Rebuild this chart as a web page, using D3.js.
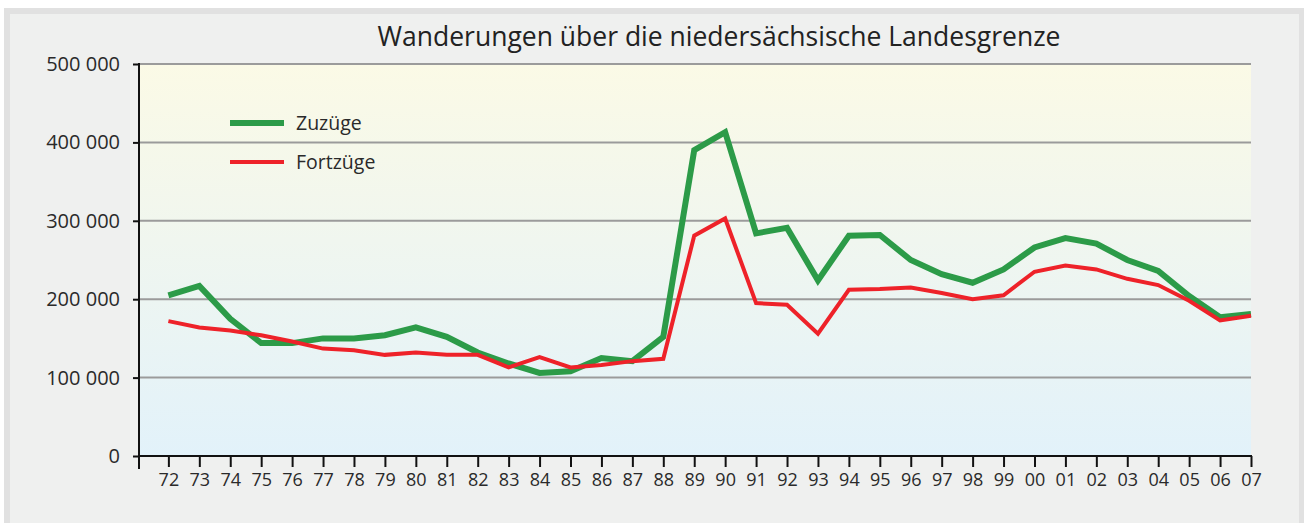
<!DOCTYPE html>
<html>
<head>
<meta charset="utf-8">
<script src="https://cdn.jsdelivr.net/npm/d3@7"></script>
<style>
  html, body { margin: 0; padding: 0; background: #fff; }
  svg { display: block; }
  svg text { font-family: "Open Sans", "DejaVu Sans", sans-serif; }
</style>
</head>
<body>
<svg id="chart"></svg>
<script>
// Wanderungen über die niedersächsische Landesgrenze, 1972-2007

const years = ['72','73','74','75','76','77','78','79','80','81','82','83','84','85','86','87','88','89',
  '90','91','92','93','94','95','96','97','98','99','00','01','02','03','04','05','06','07'];

const zuzuege = [205000, 217000, 175000, 144000, 144000, 150000, 150000, 154000, 164000, 152000,
  132000, 118000, 106000, 108000, 125000, 121000, 152000, 390000, 413000, 284000,
  291000, 224000, 281000, 282000, 250000, 232000, 221000, 238000, 266000, 278000,
  271000, 250000, 236000, 204000, 177000, 181000];

const fortzuege = [172000, 164000, 160000, 154000, 146000, 137000, 135000, 129000, 132000, 129000,
  129000, 113000, 126000, 113000, 116000, 121000, 124000, 281000, 303000, 195000,
  193000, 156000, 212000, 213000, 215000, 208000, 200000, 205000, 235000, 243000,
  238000, 226000, 218000, 198000, 173000, 179000];

const yTicks = [0, 100000, 200000, 300000, 400000, 500000];

const W = 1304, H = 523;
const PLOT = { left: 139, right: 1251, top: 64, bottom: 456 };
const FONT = '"Open Sans", "DejaVu Sans", sans-serif';

const svg = d3.select('#chart').attr('width', W).attr('height', H);

// frame
svg.append('rect').attr('x', 4).attr('y', 8).attr('width', 1300).attr('height', 515).attr('fill', '#e1e1e1');
svg.append('rect').attr('x', 10).attr('y', 14).attr('width', 1289).attr('height', 509).attr('fill', '#eff0ef');

// background gradient in plot area
const grad = svg.append('defs').append('linearGradient')
  .attr('id', 'bg').attr('x1', 0).attr('y1', 0).attr('x2', 0).attr('y2', 1);
grad.append('stop').attr('offset', '0%').attr('stop-color', '#fbfae6');
grad.append('stop').attr('offset', '45%').attr('stop-color', '#f0f6ef');
grad.append('stop').attr('offset', '100%').attr('stop-color', '#e2f2fa');

svg.append('rect')
  .attr('x', PLOT.left).attr('y', PLOT.top)
  .attr('width', PLOT.right - PLOT.left).attr('height', PLOT.bottom - PLOT.top)
  .attr('fill', 'url(#bg)');

// scales
const x = d3.scaleLinear().domain([-0.95, years.length - 1]).range([PLOT.left, PLOT.right]);
const y = d3.scaleLinear().domain([0, 500000]).range([PLOT.bottom, PLOT.top]);

// gridlines
svg.append('g').selectAll('line')
  .data(yTicks.filter(d => d > 0))
  .join('line')
  .attr('x1', PLOT.left).attr('x2', PLOT.right)
  .attr('y1', d => y(d)).attr('y2', d => y(d))
  .attr('stroke', '#9b9b9b').attr('stroke-width', 2);

// y axis
const fmt = d => d === 0 ? '0' : d3.format(',')(d).replace(/,/g, ' ');
const yAxisG = svg.append('g')
  .attr('transform', `translate(${PLOT.left},0)`)
  .call(d3.axisLeft(y).tickValues(yTicks).tickFormat(fmt).tickSize(6).tickPadding(13));
yAxisG.attr('font-family', FONT).attr('font-size', 20);
yAxisG.select('.domain').remove();
yAxisG.selectAll('.tick line').attr('stroke', '#111').attr('stroke-width', 2);
yAxisG.selectAll('.tick text').attr('fill', '#2a2a2a');
svg.append('line')
  .attr('x1', PLOT.left).attr('x2', PLOT.left)
  .attr('y1', PLOT.top - 1).attr('y2', PLOT.bottom + 13)
  .attr('stroke', '#111').attr('stroke-width', 2);

// x axis
const xAxisG = svg.append('g')
  .attr('transform', `translate(0,${PLOT.bottom})`)
  .call(d3.axisBottom(x).tickValues(d3.range(years.length)).tickFormat(i => years[i]).tickSize(11).tickPadding(6));
xAxisG.attr('font-family', FONT).attr('font-size', 18);
xAxisG.select('.domain').remove();
xAxisG.selectAll('.tick line').attr('stroke', '#111').attr('stroke-width', 2);
xAxisG.selectAll('.tick text').attr('fill', '#2a2a2a');
svg.append('line')
  .attr('x1', PLOT.left - 1).attr('x2', PLOT.right + 1)
  .attr('y1', PLOT.bottom).attr('y2', PLOT.bottom)
  .attr('stroke', '#111').attr('stroke-width', 2);

// lines
const line = d3.line().x((d, i) => x(i)).y(d => y(d));

svg.append('path')
  .datum(zuzuege)
  .attr('d', line)
  .attr('fill', 'none')
  .attr('stroke', '#2c9b48')
  .attr('stroke-width', 6)
  .attr('stroke-linejoin', 'miter');

svg.append('path')
  .datum(fortzuege)
  .attr('d', line)
  .attr('fill', 'none')
  .attr('stroke', '#ee2229')
  .attr('stroke-width', 4)
  .attr('stroke-linejoin', 'miter');

// title
svg.append('text')
  .attr('x', 719).attr('y', 46)
  .attr('text-anchor', 'middle')
  .attr('fill', '#222')
  .style('font-size', '26.5px')
  .text('Wanderungen über die niedersächsische Landesgrenze');

// legend
const legend = [
  { name: 'Zuzüge', color: '#2c9b48', width: 6 },
  { name: 'Fortzüge', color: '#ee2229', width: 4 }
];
const lg = svg.append('g').selectAll('g')
  .data(legend)
  .join('g')
  .attr('transform', (d, i) => `translate(230,${123 + i * 39})`);
lg.append('line')
  .attr('x1', 0).attr('x2', 54)
  .attr('stroke', d => d.color)
  .attr('stroke-width', d => d.width);
lg.append('text')
  .attr('x', 66).attr('y', 7)
  .attr('fill', '#2a2a2a')
  .style('font-size', '19.5px')
  .text(d => d.name);
</script>
</body>
</html>
